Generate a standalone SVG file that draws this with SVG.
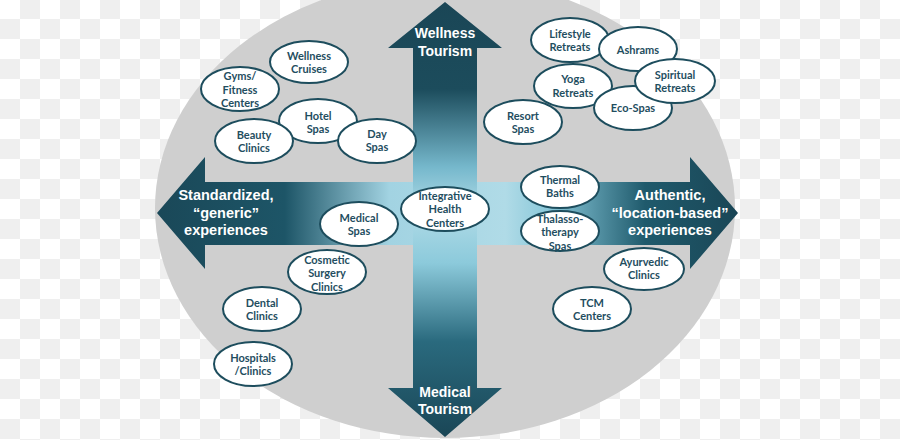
<svg xmlns="http://www.w3.org/2000/svg" width="900" height="440" viewBox="0 0 900 440">
  <defs>
    <pattern id="checker" x="0" y="-1" width="40" height="40" patternUnits="userSpaceOnUse">
      <rect width="40" height="40" fill="#ffffff"/>
      <rect x="20" y="0" width="20" height="20" fill="#efefef"/>
      <rect x="0" y="20" width="20" height="20" fill="#efefef"/>
    </pattern>
    <linearGradient id="gv" gradientUnits="userSpaceOnUse" x1="0" y1="2" x2="0" y2="437">
      <stop offset="0" stop-color="#1a4656"/>
      <stop offset="0.2" stop-color="#1c4c5c"/>
      <stop offset="0.38" stop-color="#76b8cc"/>
      <stop offset="0.48" stop-color="#b0dbe7"/>
      <stop offset="0.6" stop-color="#8ccadb"/>
      <stop offset="0.78" stop-color="#2a6a7e"/>
      <stop offset="1" stop-color="#1a4656"/>
    </linearGradient>
    <linearGradient id="gh" gradientUnits="userSpaceOnUse" x1="157" y1="0" x2="738" y2="0">
      <stop offset="0" stop-color="#1a4858"/>
      <stop offset="0.22" stop-color="#1d5567"/>
      <stop offset="0.4" stop-color="#a2d3e2"/>
      <stop offset="0.6" stop-color="#b0dbe7"/>
      <stop offset="0.68" stop-color="#86c6d8"/>
      <stop offset="0.84" stop-color="#1f5a6c"/>
      <stop offset="1" stop-color="#1a4656"/>
    </linearGradient>
    <style>
      .node ellipse { fill: #ffffff; stroke: #1d4d5d; stroke-width: 2; }
      .node text { font-family: "Lato", "Open Sans", "Liberation Sans", sans-serif; font-weight: bold; font-size: 11px; fill: #1f4e5f; text-anchor: middle; }
      .axislabel { font-family: "Liberation Sans", Arial, sans-serif; font-weight: bold; fill: #ffffff; text-anchor: middle; }
    </style>
  </defs>

  <rect width="900" height="440" fill="url(#checker)"/>
  <ellipse cx="445" cy="208" rx="290" ry="230" fill="#cfcfcf"/>

  <g id="axes">
    <polygon id="axis-horizontal" fill="url(#gh)" points="157,213 205,157 205,182 690,182 690,157 738,213 690,269 690,245 205,245 205,269"/>
    <polygon id="axis-vertical" fill="url(#gv)" points="445,2 502,48 477,48 477,388 502,388 445,437 388,388 413,388 413,48 388,48"/>
    <text class="axislabel" font-size="14" x="445" y="38">Wellness</text>
    <text class="axislabel" font-size="14" x="445" y="56">Tourism</text>
    <text class="axislabel" font-size="14" x="445" y="397">Medical</text>
    <text class="axislabel" font-size="14" x="445" y="414">Tourism</text>
    <text class="axislabel" font-size="14.5" x="226" y="200">Standardized,</text>
    <text class="axislabel" font-size="14.5" x="226" y="218">“generic”</text>
    <text class="axislabel" font-size="14.5" x="226" y="235">experiences</text>
    <text class="axislabel" font-size="14.5" x="670" y="200">Authentic,</text>
    <text class="axislabel" font-size="14.5" x="670" y="218">“location-based”</text>
    <text class="axislabel" font-size="14.5" x="670" y="235">experiences</text>
  </g>

  <g id="connectors"></g>

  <g id="wellness-cruises" class="node">
    <ellipse cx="309" cy="62" rx="39" ry="21"/>
    <text x="309" y="60">Wellness</text><text x="309" y="73">Cruises</text>
  </g>
  <g id="gyms-fitness-centers" class="node">
    <ellipse cx="240" cy="89" rx="39" ry="22"/>
    <text x="240" y="80">Gyms/</text><text x="240" y="94">Fitness</text><text x="240" y="107">Centers</text>
  </g>
  <g id="hotel-spas" class="node">
    <ellipse cx="318" cy="121" rx="39" ry="22"/>
    <text x="318" y="120">Hotel</text><text x="318" y="133">Spas</text>
  </g>
  <g id="beauty-clinics" class="node">
    <ellipse cx="254" cy="141" rx="39" ry="22"/>
    <text x="254" y="139">Beauty</text><text x="254" y="152">Clinics</text>
  </g>
  <g id="day-spas" class="node">
    <ellipse cx="377" cy="141" rx="39" ry="22"/>
    <text x="377" y="138">Day</text><text x="377" y="151">Spas</text>
  </g>
  <g id="lifestyle-retreats" class="node">
    <ellipse cx="570" cy="40" rx="39" ry="22"/>
    <text x="570" y="38">Lifestyle</text><text x="570" y="51">Retreats</text>
  </g>
  <g id="ashrams" class="node">
    <ellipse cx="638" cy="49" rx="39" ry="22"/>
    <text x="638" y="54">Ashrams</text>
  </g>
  <g id="yoga-retreats" class="node">
    <ellipse cx="573" cy="86" rx="39" ry="22"/>
    <text x="573" y="83">Yoga</text><text x="573" y="97">Retreats</text>
  </g>
  <g id="eco-spas" class="node">
    <ellipse cx="633" cy="108" rx="39" ry="22"/>
    <text x="633" y="112">Eco-Spas</text>
  </g>
  <g id="spiritual-retreats" class="node">
    <ellipse cx="675" cy="81" rx="40" ry="22"/>
    <text x="675" y="79">Spiritual</text><text x="675" y="92">Retreats</text>
  </g>
  <g id="resort-spas" class="node">
    <ellipse cx="523" cy="122" rx="39" ry="22"/>
    <text x="523" y="120">Resort</text><text x="523" y="133">Spas</text>
  </g>
  <g id="integrative-health-centers" class="node">
    <ellipse cx="445" cy="209" rx="44" ry="22"/>
    <text x="445" y="200">Integrative</text><text x="445" y="213">Health</text><text x="445" y="227">Centers</text>
  </g>
  <g id="medical-spas" class="node">
    <ellipse cx="359" cy="224" rx="39" ry="22"/>
    <text x="359" y="222">Medical</text><text x="359" y="235">Spas</text>
  </g>
  <g id="thermal-baths" class="node">
    <ellipse cx="560" cy="187" rx="39" ry="21"/>
    <text x="560" y="184">Thermal</text><text x="560" y="197">Baths</text>
  </g>
  <g id="thalassotherapy-spas" class="node">
    <ellipse cx="560" cy="231" rx="39" ry="20"/>
    <text x="560" y="223">Thalasso-</text><text x="560" y="236">therapy</text><text x="560" y="250">Spas</text>
  </g>
  <g id="ayurvedic-clinics" class="node">
    <ellipse cx="644" cy="269" rx="40" ry="21"/>
    <text x="644" y="266">Ayurvedic</text><text x="644" y="279">Clinics</text>
  </g>
  <g id="cosmetic-surgery-clinics" class="node">
    <ellipse cx="327" cy="272" rx="39" ry="22"/>
    <text x="327" y="264">Cosmetic</text><text x="327" y="277">Surgery</text><text x="327" y="291">Clinics</text>
  </g>
  <g id="dental-clinics" class="node">
    <ellipse cx="262" cy="309" rx="39" ry="22"/>
    <text x="262" y="307">Dental</text><text x="262" y="320">Clinics</text>
  </g>
  <g id="tcm-centers" class="node">
    <ellipse cx="592" cy="309" rx="39" ry="22"/>
    <text x="592" y="307">TCM</text><text x="592" y="320">Centers</text>
  </g>
  <g id="hospitals-clinics" class="node">
    <ellipse cx="253" cy="364" rx="39" ry="22"/>
    <text x="253" y="362">Hospitals</text><text x="253" y="375">/Clinics</text>
  </g>
</svg>
